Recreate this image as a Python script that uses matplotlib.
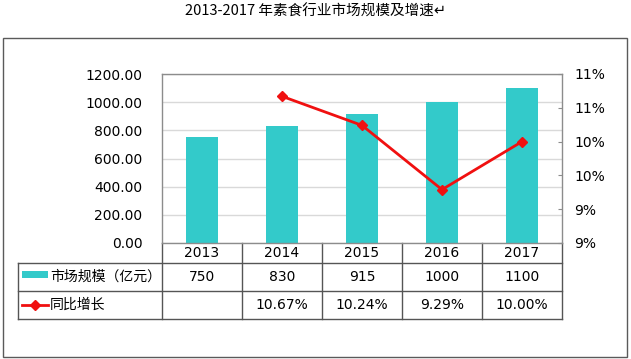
import numpy as np
import matplotlib.pyplot as plt
import matplotlib.transforms as mtransforms
from matplotlib.patches import Rectangle
from matplotlib.lines import Line2D
from matplotlib.ticker import FuncFormatter

plt.rcParams['font.family'] = ['DejaVu Sans', 'Noto Sans CJK SC']

# Data
years = ['2013', '2014', '2015', '2016', '2017']
market_size = [750, 830, 915, 1000, 1100]          # 亿元
growth = [np.nan, 10.67, 10.24, 9.29, 10.00]      # %
size_labels = ['750', '830', '915', '1000', '1100']
growth_labels = ['', '10.67%', '10.24%', '9.29%', '10.00%']
row_names = ['市场规模（亿元）', '同比增长']
title = '2013-2017 年素食行业市场规模及增速↵'

bar_color = '#33CACA'
line_color = '#F01010'
grid_color = '#D9D9D9'
table_color = '#555555'

W, H = 631, 359
fig = plt.figure(figsize=(W / 100, H / 100), dpi=100)

# outer frame and title
fig.patches.append(Rectangle((3 / W, 1 - 357 / H), 624 / W, 319 / H, transform=fig.transFigure,
                             fill=False, edgecolor='#5A5A5A', linewidth=1))
fig.text(316 / W, 1 - 12 / H, title, ha='center', va='center', fontsize=10.5,
         family=['Noto Sans CJK SC', 'DejaVu Sans'])

ax = fig.add_axes([162 / W, 1 - 243 / H, 400 / W, 169 / H])
x = np.arange(len(years))
ax.bar(x, market_size, width=0.41, color=bar_color, zorder=2)
ax.set_xlim(-0.5, len(years) - 0.5)
ax.set_ylim(0, 1200)
ax.set_yticks(np.arange(0, 1201, 200))
ax.yaxis.set_major_formatter(FuncFormatter(lambda v, p: f'{v:.2f}'))
ax.grid(axis='y', color=grid_color, linewidth=1, zorder=0)
ax.set_axisbelow(True)
ax.tick_params(axis='y', length=0, pad=14, labelsize=10)
ax.set_xticks([])
for s in ax.spines.values():
    s.set_color('#8C8C8C')
    s.set_linewidth(1)

ax2 = ax.twinx()
ax2.plot(x, growth, color=line_color, linewidth=2, marker='D', markersize=5, zorder=3)
ax2.set_ylim(8.5, 11.0)
ax2.set_yticks(np.arange(8.5, 11.01, 0.5))
ax2.yaxis.set_major_formatter(FuncFormatter(lambda v, p: f'{int(np.floor(v + 0.5))}%'))
ax2.tick_params(axis='y', direction='in', length=3, color='#8C8C8C', pad=9, labelsize=10)
for s in ax2.spines.values():
    s.set_visible(False)

# data table below the plot
tr = mtransforms.blended_transform_factory(ax.transData, ax.transAxes)
y_rows = [0, -20 / 169, -48 / 169, -76 / 169]
x_left = -2.3
x_right = len(years) - 0.5
lk = dict(color=table_color, linewidth=1, transform=tr, clip_on=False)

# header row (years)
for i in range(len(years) + 1):
    ax.add_line(Line2D([i - 0.5, i - 0.5], [y_rows[0], y_rows[3]], **lk))
for yr in y_rows[1:]:
    ax.add_line(Line2D([x_left, x_right], [yr, yr], **lk))
ax.add_line(Line2D([x_left, x_left], [y_rows[1], y_rows[3]], **lk))

for i, yv in enumerate(years):
    ax.text(i, (y_rows[0] + y_rows[1]) / 2, yv, ha='center', va='center', fontsize=10,
            transform=tr)
for i, (s, g) in enumerate(zip(size_labels, growth_labels)):
    ax.text(i, (y_rows[1] + y_rows[2]) / 2, s, ha='center', va='center', fontsize=10,
            transform=tr)
    ax.text(i, (y_rows[2] + y_rows[3]) / 2, g, ha='center', va='center', fontsize=10,
            transform=tr)

# legend keys inside the table
ym1 = (y_rows[1] + y_rows[2]) / 2
ym2 = (y_rows[2] + y_rows[3]) / 2
ax.add_patch(Rectangle((-2.25, ym1 - 0.005), 0.325, 7 / 169, facecolor=bar_color,
                       edgecolor='none', transform=tr, clip_on=False))
ax.add_line(Line2D([-2.25, -1.925], [ym2, ym2], color=line_color, linewidth=2,
                   transform=tr, clip_on=False))
ax.add_line(Line2D([-2.0875], [ym2], color=line_color, marker='D', markersize=5,
                   transform=tr, clip_on=False))
ax.text(-1.9, ym1, row_names[0], ha='left', va='center', fontsize=10, transform=tr,
        family=['Noto Sans CJK SC', 'DejaVu Sans'])
ax.text(-1.9, ym2, row_names[1], ha='left', va='center', fontsize=10, transform=tr,
        family=['Noto Sans CJK SC', 'DejaVu Sans'])

fig.savefig('out.png', dpi=100)
